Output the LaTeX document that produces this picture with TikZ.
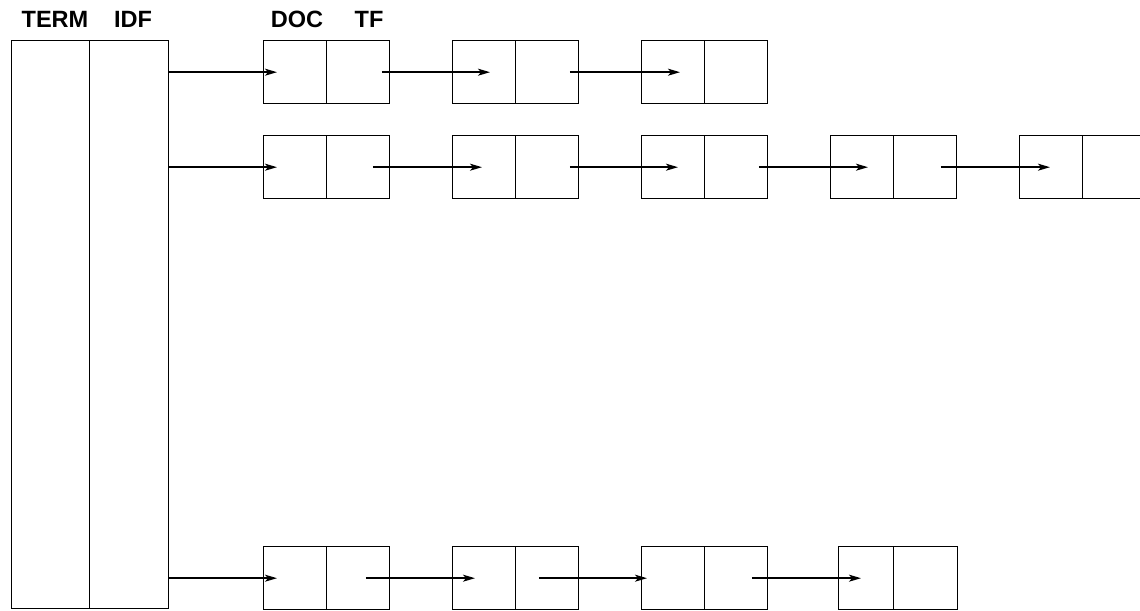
\documentclass[tikz,border=0pt]{standalone}
\usepackage{fontspec}
\setmainfont{Liberation Sans}
\usetikzlibrary{arrows.meta}

\begin{document}
\begin{tikzpicture}[x=0.02cm,y=-0.02cm,line width=0.8pt,
  cell/.style={draw,minimum width=1.26cm,minimum height=1.26cm,inner sep=0pt,anchor=north west},
  column/.style={draw,minimum height=11.36cm,inner sep=0pt,anchor=north west},
  head/.style={font=\bfseries\fontsize{13.4}{15}\selectfont,anchor=base},
  link/.style={-{Stealth[length=0.24cm,width=0.14cm,inset=0.06cm]}}]
\useasboundingbox (0,0) rectangle (1140,611);
% table of terms
\node [column,minimum width=1.56cm] (term) at (11,40) {};
\node [column,minimum width=1.58cm] (idf) at (89,40) {};
\node [head] at (55,28) {TERM};
\node [head] at (133,28) {IDF};
\node [head] at (297,28) {DOC};
\node [head] at (369,28) {TF};
% posting lists
\foreach \row/\y/\n in {1/40/3,2/135/5,3/546/3}
  \foreach \k in {1,...,\n} {
    \node [cell] (d\row\k) at (263+189*\k-189,\y) {};
    \node [cell] (t\row\k) at (326+189*\k-189,\y) {};
  }
\node [cell,minimum width=1.1cm] (d34) at (838,546) {};
\node [cell,minimum width=1.28cm] (t34) at (893,546) {};
% pointers
\foreach \row in {1,2,3}
  \draw [link] (idf.east |- d\row1) -- ([xshift=0.28cm]d\row1.west);
\draw [link] ([xshift=1.12cm]t11.west) -- ([xshift=0.76cm]d12.west);
\draw [link] ([xshift=1.1cm]t12.west) -- ([xshift=0.78cm]d13.west);
\draw [link] ([xshift=0.94cm]t21.west) -- ([xshift=0.6cm]d22.west);
\draw [link] ([xshift=1.1cm]t22.west) -- ([xshift=0.74cm]d23.west);
\draw [link] ([xshift=1.1cm]t23.west) -- ([xshift=0.76cm]d24.west);
\draw [link] ([xshift=0.96cm]t24.west) -- ([xshift=0.62cm]d25.west);
\draw [link] ([xshift=0.8cm]t31.west) -- ([xshift=0.46cm]d32.west);
\draw [link] ([xshift=0.48cm]t32.west) -- ([xshift=0.12cm]d33.west);
\draw [link] ([xshift=0.96cm]t33.west) -- ([xshift=0.46cm]d34.west);
\end{tikzpicture}
\end{document}
